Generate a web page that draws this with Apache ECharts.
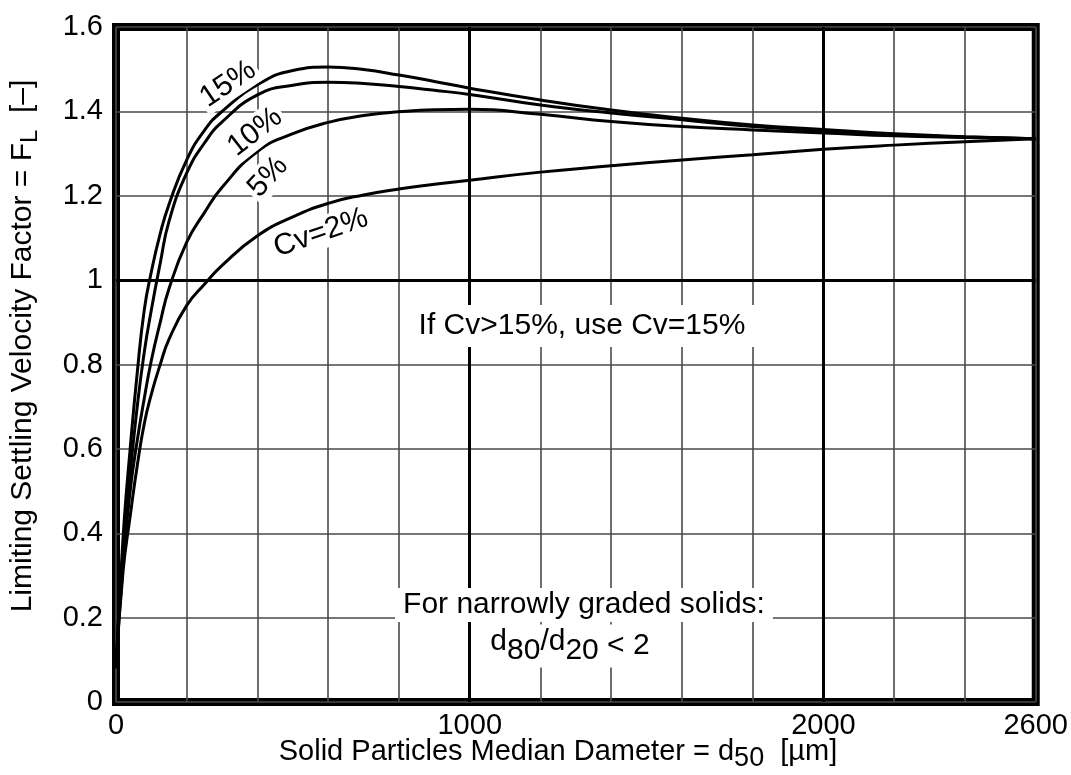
<!DOCTYPE html>
<html>
<head>
<meta charset="utf-8">
<script src="https://cdn.jsdelivr.net/npm/echarts@6/dist/echarts.min.js"></script>
<style>
html, body { margin: 0; padding: 0; background: #fff; }
#chart { width: 1071px; height: 775px; }
</style>
</head>
<body>
<div id="chart"></div>
<script>
// d50 [um] sample points
const diameters = [0, 20, 40, 60, 80, 100, 125, 150, 200, 250, 300, 400, 500, 600, 700, 800, 900, 1000, 1200, 1400, 1600, 1800, 2000, 2200, 2400, 2600];
// FL for each concentration
const cv15 = [0.08, 0.39, 0.60, 0.78, 0.93, 1.02, 1.11, 1.18, 1.285, 1.355, 1.40, 1.463, 1.497, 1.505, 1.499, 1.486, 1.471, 1.455, 1.427, 1.403, 1.384, 1.368, 1.357, 1.347, 1.340, 1.335];
const cv10 = [0.08, 0.36, 0.54, 0.70, 0.83, 0.93, 1.04, 1.14, 1.254, 1.325, 1.375, 1.439, 1.462, 1.469, 1.466, 1.459, 1.450, 1.440, 1.415, 1.396, 1.380, 1.364, 1.354, 1.345, 1.339, 1.335];
const cv5 = [0.08, 0.33, 0.50, 0.62, 0.72, 0.81, 0.90, 0.98, 1.09, 1.16, 1.22, 1.305, 1.347, 1.374, 1.390, 1.399, 1.404, 1.405, 1.393, 1.376, 1.364, 1.356, 1.349, 1.342, 1.338, 1.335];
const cv2 = [0.08, 0.31, 0.44, 0.56, 0.66, 0.73, 0.80, 0.86, 0.94, 0.99, 1.035, 1.105, 1.15, 1.182, 1.202, 1.216, 1.227, 1.237, 1.256, 1.271, 1.285, 1.297, 1.310, 1.320, 1.328, 1.335];

const xLabelValues = [0, 1000, 2000, 2600];
const boldX = [1000, 2000];
const boldY = [1];

const FONT = '"Liberation Sans", Arial, sans-serif';

function pairs(vals) {
    return diameters.map((d, i) => [d, vals[i]]);
}

function curve(vals, withMarks) {
    const s = {
        type: 'line',
        data: pairs(vals),
        showSymbol: false,
        smooth: 0.5,
        lineStyle: { color: '#000', width: 3 },
        silent: true,
        z: 3
    };
    if (withMarks) {
        s.markLine = {
            silent: true,
            symbol: ['none', 'none'],
            label: { show: false },
            lineStyle: { color: '#000', width: 3, type: 'solid' },
            data: boldX.map(v => ({ xAxis: v })).concat(boldY.map(v => ({ yAxis: v })))
        };
    }
    return s;
}

// text with a white box, x/y is its centre, rot in degrees
function note(x, y, text, rot, extra) {
    return {
        type: 'text',
        x: x,
        y: y,
        rotation: (rot || 0) * Math.PI / 180,
        z: 100,
        style: Object.assign({
            text: text,
            fill: '#000',
            fontFamily: FONT,
            fontSize: 30,
            align: 'center',
            verticalAlign: 'middle',
            backgroundColor: '#fff',
            padding: [1, 3]
        }, extra || {})
    };
}

const myChart = echarts.init(document.getElementById('chart'));
myChart.setOption({
    animation: false,
    backgroundColor: '#fff',
    grid: {
        left: 116,
        right: 31,
        top: 27,
        bottom: 73,
        show: true,
        borderColor: '#000',
        borderWidth: 8,
        backgroundColor: 'transparent'
    },
    xAxis: {
        type: 'value',
        min: 0,
        max: 2600,
        interval: 200,
        axisLine: { show: false },
        axisTick: { show: false },
        splitLine: { show: true, lineStyle: { color: '#4a4a4a', width: 1.6 } },
        axisLabel: {
            color: '#000',
            fontFamily: FONT,
            fontSize: 29,
            margin: 9,
            showMaxLabel: true,
            showMinLabel: true,
            formatter: v => (xLabelValues.indexOf(v) >= 0 ? String(v) : '')
        }
    },
    yAxis: {
        type: 'value',
        min: 0,
        max: 1.6,
        interval: 0.2,
        axisLine: { show: false },
        axisTick: { show: false },
        splitLine: { show: true, lineStyle: { color: '#4a4a4a', width: 1.6 } },
        axisLabel: {
            color: '#000',
            fontFamily: FONT,
            fontSize: 29,
            margin: 13
        }
    },
    series: [curve(cv15, true), curve(cv10), curve(cv5), curve(cv2)],
    graphic: [
        note(228, 84, '15%', 34),
        note(255, 132, '10%', 38),
        note(268, 177, '5%', 47),
        note(321, 233, 'Cv=2%', 19),
        note(582, 326, 'If Cv>15%, use Cv=15%', 0, { padding: [6, 14] }),
        note(584, 605, 'For narrowly graded solids:', 0, { padding: [2, 8] }),
        note(570, 646, '{a|d}{s|80}{a|/d}{s|20}{b| < 2}', 0, {
            padding: [2, 6],
            rich: {
                a: { fontFamily: FONT, fontSize: 30, verticalAlign: 'top', padding: [0, 0, 0, 0] },
                s: { fontFamily: FONT, fontSize: 30, verticalAlign: 'top', padding: [9, 0, 0, 0] },
                b: { fontFamily: FONT, fontSize: 30, verticalAlign: 'top', padding: [4, 0, 0, 0] }
            }
        }),
        note(25, 346, '{a|Limiting Settling Velocity Factor = F}{s|L}{a|  [\u2013]}', 90, {
            backgroundColor: 'transparent',
            rich: {
                a: { fontFamily: FONT, fontSize: 30, verticalAlign: 'top' },
                s: { fontFamily: FONT, fontSize: 24, verticalAlign: 'top', padding: [10, 0, 0, 0] }
            }
        }),
        note(558, 755, '{a|Solid Particles Median Dameter = d}{s|50}{a|  [\u00b5m]}', 0, {
            backgroundColor: 'transparent',
            rich: {
                a: { fontFamily: FONT, fontSize: 29, verticalAlign: 'top' },
                s: { fontFamily: FONT, fontSize: 27, verticalAlign: 'top', padding: [8, 0, 0, 0] }
            }
        })
    ]
});
window.addEventListener('resize', () => myChart.resize());
</script>
</body>
</html>
